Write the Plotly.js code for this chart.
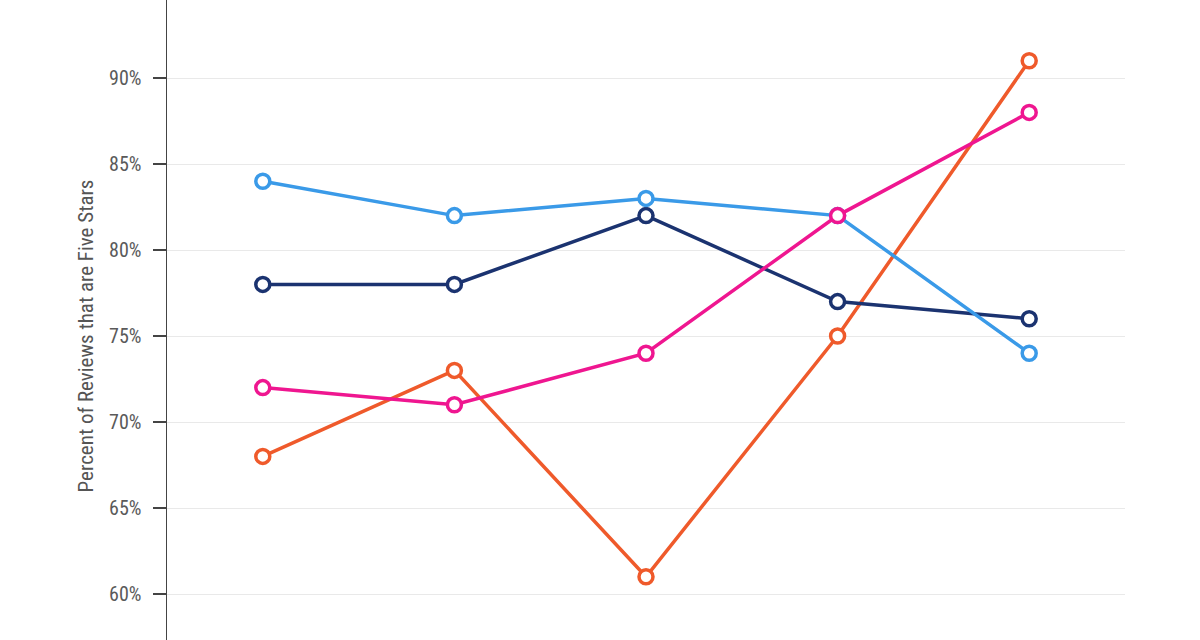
<!DOCTYPE html>
<html>
<head>
<meta charset="utf-8">
<script src="https://cdn.plot.ly/plotly-3.0.1.min.js"></script>
<style>
html,body{margin:0;padding:0;width:1200px;height:640px;overflow:hidden;background:#fff;}
#chart{position:absolute;left:0;top:-100px;width:1200px;height:900px;}
</style>
</head>
<body>
<div id="chart"></div>
<script>
const categories = ["Group 1", "Group 2", "Group 3", "Group 4", "Group 5"];
const seriesNames = ["Series D", "Series B", "Series A", "Series C"];
const orangeValues = [68, 73, 61, 75, 91];
const navyValues = [78, 78, 82, 77, 76];
const lightBlueValues = [84, 82, 83, 82, 74];
const pinkValues = [72, 71, 74, 82, 88];
const yTickValues = [60, 65, 70, 75, 80, 85, 90, 95];
const yTickLabels = ["60%", "65%", "70%", "75%", "80%", "85%", "90%", "95%"];

const series = [
  {name: seriesNames[0], y: orangeValues, color: "#ef5a2b"},
  {name: seriesNames[1], y: navyValues, color: "#1b3370"},
  {name: seriesNames[2], y: lightBlueValues, color: "#3a9ae8"},
  {name: seriesNames[3], y: pinkValues, color: "#ef1690"}
];

const traces = series.map(s => ({
  type: "scatter",
  mode: "lines+markers",
  name: s.name,
  x: categories,
  y: s.y,
  line: {color: s.color, width: 3.5},
  marker: {symbol: "circle", size: 14, color: "#ffffff", line: {color: s.color, width: 3.5}},
  cliponaxis: false
}));

const font = "'Roboto Condensed', 'Liberation Sans Narrow', Roboto, sans-serif";

const layout = {
  width: 1200,
  height: 900,
  margin: {l: 167, r: 75, t: 92, b: 120},
  paper_bgcolor: "#ffffff",
  plot_bgcolor: "#ffffff",
  showlegend: false,
  font: {family: font, color: "#555555", size: 20},
  xaxis: {
    type: "category",
    range: [-0.5, 4.5],
    showgrid: false,
    zeroline: false,
    showline: false,
    showticklabels: false,
    ticks: ""
  },
  yaxis: {
    range: [55, 95],
    tickvals: yTickValues,
    ticktext: yTickLabels,
    showgrid: true,
    gridcolor: "#e9e9e9",
    gridwidth: 1,
    zeroline: false,
    showline: true,
    linecolor: "#444444",
    linewidth: 1.5,
    ticks: "outside",
    ticklen: 13,
    tickwidth: 1.5,
    tickcolor: "#444444",
    ticklabelstandoff: 7,
    tickfont: {family: font, size: 20, color: "#5a5a5a"},
    title: {
      text: "Percent of Reviews that are Five Stars",
      font: {family: font, size: 21, color: "#555555"},
      standoff: 9
    }
  }
};

Plotly.newPlot("chart", traces, layout, {displayModeBar: false, staticPlot: true});
</script>
</body>
</html>
